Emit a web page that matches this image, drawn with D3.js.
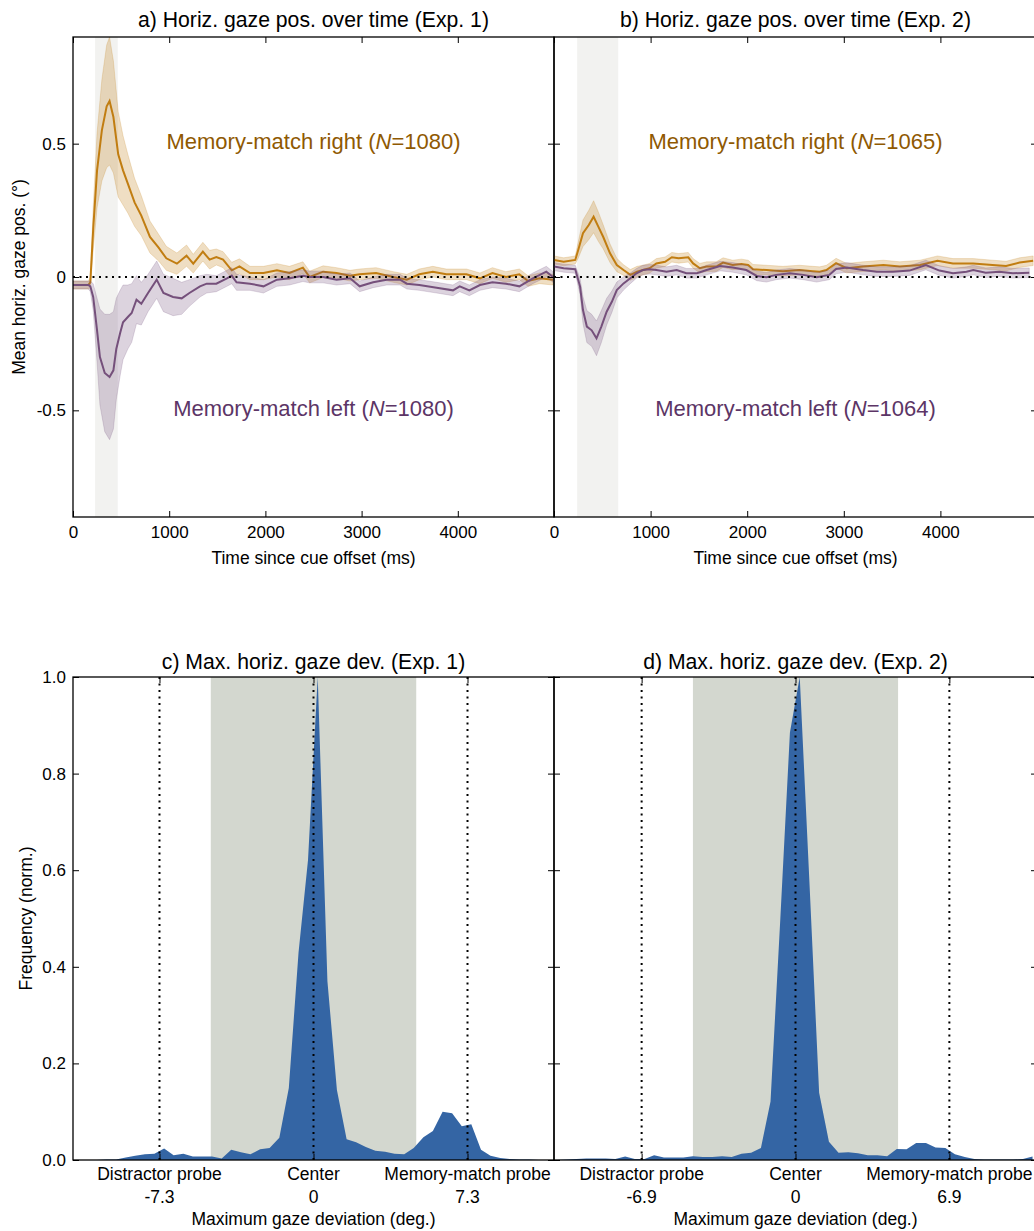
<!DOCTYPE html>
<html>
<head>
<meta charset="utf-8">
<script src="https://cdn.jsdelivr.net/npm/d3@7"></script>
<style>
  body { margin: 0; background: #fff; }
  svg text { font-family: "Liberation Sans", Arial, sans-serif; fill: #000; }
</style>
</head>
<body>
<svg id="chart" width="1034" height="1231"></svg>
<script>
// ---- Data ----
const panelTitles = [
  'a) Horiz. gaze pos. over time (Exp. 1)',
  'b) Horiz. gaze pos. over time (Exp. 2)',
  'c) Max. horiz. gaze dev. (Exp. 1)',
  'd) Max. horiz. gaze dev. (Exp. 2)'
];
const timeTicks = [0, 1000, 2000, 3000, 4000];
const gazeTicks = [-0.5, 0, 0.5];
const freqTicks = [0, 0.2, 0.4, 0.6, 0.8, 1.0];
const probeNames = ['Distractor probe', 'Center', 'Memory-match probe'];

// Exp. 1, memory-match right
const exp1RightTime = [0,160,180,210,250,300,350,380,420,470, 520,570,640,710,800,890,970,1080,1180,1250,
  1350,1420,1490,1560,1650,1730,1840,1980,2120,2250, 2390,2460,2600,2740,2880,2980,3150,3330,3470,3600,
  3740,3880,4090,4230,4360,4500,4640,4730,4850,4990];
const exp1RightMean = [-0.03,-0.03,-0.02,0.18,0.40,0.55,0.64,0.66,0.60,0.46, 0.40,0.35,0.28,0.23,0.15,0.11,0.07,0.05,0.08,0.05,
  0.095,0.065,0.075,0.065,0.025,0.04,0.015,0.015,0.025,0.015, 0.035,0.0,0.02,0.015,0.005,0.01,0.015,0.0,-0.01,0.01,
  0.02,0.01,0.01,-0.005,0.015,0.0,0.01,-0.015,-0.005,-0.01];
const exp1RightCi = [0.015,0.015,0.02,0.08,0.14,0.19,0.23,0.24,0.21,0.16, 0.13,0.11,0.09,0.075,0.06,0.05,0.045,0.04,0.04,0.035,
  0.035,0.035,0.03,0.03,0.03,0.028,0.025,0.025,0.025,0.025, 0.022,0.022,0.022,0.02,0.02,0.02,0.02,0.02,0.02,0.02,
  0.02,0.02,0.02,0.02,0.02,0.02,0.02,0.02,0.02,0.02];

// Exp. 1, memory-match left
const exp1LeftTime = [0,160,180,210,250,280,330,380,420,450, 490,520,570,610,660,710,780,870,940,1040,
  1130,1210,1320,1390,1490,1600,1650,1700,1840,1980, 2120,2250,2390,2460,2600,2740,2880,2980,3120,3260,
  3400,3470,3600,3780,3950,4020,4120,4230,4360,4500, 4640,4780,4920,4990];
const exp1LeftMean = [-0.03,-0.03,-0.035,-0.075,-0.20,-0.30,-0.36,-0.375,-0.35,-0.27, -0.21,-0.17,-0.15,-0.135,-0.085,-0.10,-0.06,-0.01,-0.06,-0.075,
  -0.08,-0.06,-0.035,-0.025,-0.025,-0.005,0.005,-0.02,-0.025,-0.035, -0.01,-0.005,0.005,0.0,0.0,-0.01,-0.005,-0.035,-0.02,-0.01,
  -0.01,-0.025,-0.03,-0.04,-0.05,-0.035,-0.05,-0.03,-0.02,-0.025, -0.035,-0.005,0.02,0.0];
const exp1LeftCi = [0.015,0.015,0.02,0.05,0.12,0.18,0.22,0.235,0.22,0.19, 0.16,0.14,0.12,0.11,0.09,0.08,0.07,0.07,0.07,0.07,
  0.06,0.05,0.04,0.035,0.03,0.03,0.03,0.03,0.025,0.025, 0.025,0.025,0.022,0.022,0.022,0.02,0.02,0.02,0.02,0.02,
  0.02,0.02,0.02,0.02,0.02,0.02,0.02,0.02,0.02,0.02, 0.02,0.02,0.02,0.02];

// Exp. 2, memory-match right
const exp2RightTime = [0,100,220,250,300,360,410,460,510,580, 650,720,790,860,920,990,1060,1150,1220,1290,
  1390,1440,1510,1580,1680,1750,1850,1940,2010,2060, 2200,2370,2540,2680,2750,2820,2920,3030,3200,3410,
  3580,3790,3970,4130,4340,4540,4680,4820,4960];
const exp2RightMean = [0.064,0.057,0.064,0.10,0.164,0.195,0.226,0.188,0.15,0.089, 0.045,0.026,0.008,0.02,0.026,0.033,0.051,0.057,0.074,0.07,
  0.074,0.051,0.033,0.039,0.039,0.054,0.045,0.049,0.045,0.029, 0.026,0.022,0.026,0.022,0.02,0.026,0.052,0.033,0.039,0.045,
  0.039,0.045,0.061,0.051,0.051,0.045,0.041,0.054,0.061];
const exp2RightCi = [0.015,0.015,0.015,0.03,0.05,0.055,0.06,0.055,0.045,0.035, 0.025,0.02,0.02,0.02,0.018,0.018,0.018,0.018,0.018,0.018,
  0.018,0.018,0.018,0.018,0.018,0.018,0.018,0.018,0.018,0.018, 0.018,0.018,0.018,0.018,0.018,0.018,0.018,0.018,0.018,0.018,
  0.018,0.018,0.018,0.018,0.018,0.018,0.018,0.018,0.018];

// Exp. 2, memory-match left
const exp2LeftTime = [0,100,220,270,300,340,390,440,490,545, 600,650,720,790,855,920,990,1060,1165,1270,
  1370,1480,1580,1720,1850,1990,2100,2200,2300,2440, 2580,2720,2850,2920,3030,3200,3340,3510,3680,3850,
  3990,4130,4270,4340,4470,4610,4750,4920];
const exp2LeftMean = [0.039,0.033,0.029,-0.036,-0.124,-0.186,-0.2,-0.23,-0.186,-0.13, -0.092,-0.049,-0.024,-0.005,0.014,0.026,0.029,0.026,0.02,0.026,
  0.014,0.014,0.026,0.041,0.036,0.026,0.004,-0.001,0.008,0.014, 0.008,-0.001,0.008,0.03,0.036,0.026,0.02,0.02,0.024,0.045,
  0.024,0.014,0.02,0.026,0.016,0.02,0.014,0.016];
const exp2LeftCi = [0.015,0.015,0.015,0.03,0.05,0.06,0.06,0.065,0.06,0.05, 0.04,0.03,0.025,0.02,0.018,0.018,0.018,0.018,0.018,0.018,
  0.018,0.018,0.018,0.018,0.018,0.018,0.018,0.018,0.018,0.018, 0.018,0.018,0.018,0.018,0.018,0.018,0.018,0.018,0.018,0.018,
  0.018,0.018,0.018,0.018,0.018,0.018,0.018,0.018];

const exp1N = {right: 1080, left: 1080};
const exp2N = {right: 1065, left: 1064};
const exp1Shade = [230, 465];
const exp2Shade = [240, 665];

// Histograms of maximum gaze deviation (deg.)
const exp1Dev = [-11.18,-10.72,-10.27,-9.81,-9.36,-8.90,-8.45,-7.99,-7.54,-7.08, -6.63,-6.17,-5.72,-5.26,-4.81,-4.35,-3.90,-3.44,-2.99,-2.53,
  -2.08,-1.62,-1.17,-0.71,-0.26,0.20,0.66,1.11,1.57,2.02, 2.48,2.93,3.39,3.84,4.30,4.75,5.21,5.66,6.12,6.57,
  7.03,7.48,7.94,8.39,8.85,9.30,9.76,10.21,10.67,11.12];
const exp1Freq = [0,0,0,0.001,0.001,0.005,0.009,0.012,0.013,0.024, 0.010,0.013,0.007,0.007,0.007,0.003,0.021,0.016,0.012,0.022,
  0.025,0.046,0.149,0.429,0.621,1.0,0.37,0.145,0.043,0.037, 0.027,0.019,0.017,0.013,0.012,0.025,0.047,0.060,0.100,0.097,
  0.070,0.074,0.021,0.009,0.004,0.002,0.001,0.001,0,0];
const exp2Dev = [-10.69,-10.25,-9.82,-9.38,-8.95,-8.51,-8.08,-7.64,-7.21,-6.77, -6.34,-5.90,-5.47,-5.03,-4.60,-4.16,-3.73,-3.29,-2.86,-2.42,
  -1.99,-1.55,-1.12,-0.68,-0.25,0.19,0.63,1.06,1.50,1.93, 2.37,2.80,3.24,3.67,4.11,4.54,4.98,5.41,5.85,6.28,
  6.72,7.15,7.59,8.02,8.46,8.89,9.33,9.76,10.20,10.63];
const exp2Freq = [0,0.001,0.002,0.003,0.003,0.003,0.002,0.007,0.002,0.002, 0.010,0.005,0.005,0.005,0.008,0.006,0.006,0.008,0.006,0.013,
  0.015,0.025,0.121,0.50,0.885,1.0,0.57,0.139,0.038,0.015, 0.016,0.014,0.010,0.010,0.008,0.023,0.022,0.035,0.035,0.026,
  0.025,0.012,0.006,0.002,0.001,0.001,0.001,0.001,0.002,0.007];

const exp1Probe = 7.3, exp2Probe = 6.9;
const exp1CenterZone = 4.87, exp2CenterZone = 4.6;
const exp1XMax = 11.4, exp2XMax = 10.83;

const FONT = '"Liberation Sans", Arial, sans-serif';
const colors = {
  right: '#c17d11', rightText: '#8f5902',
  left: '#75507b', leftText: '#5c3566',
  shade: '#f2f2f0', zone: '#d3d7cf', hist: '#3465a4'
};

const svg = d3.select('#chart');

/**
 * Inward ticks on all four sides plus the black frame, matplotlib style
 */
function drawFrame(vis, xTicks, yTicks, showY, xFormat, yFormat) {
  const t = 6;
  const style = g => {
    g.select('.domain').remove();
    g.selectAll('line').attr('stroke', '#000').attr('stroke-width', 1);
    g.selectAll('text').attr('font-size', 17).attr('font-family', FONT).attr('fill', '#000');
  };
  vis.chart.append('g')
      .attr('transform', `translate(0,${vis.height})`)
      .call(d3.axisBottom(vis.xScale).tickValues(xTicks).tickSizeInner(-t).tickSizeOuter(0)
        .tickPadding(9).tickFormat(xFormat))
      .call(style);
  vis.chart.append('g')
      .call(d3.axisTop(vis.xScale).tickValues(xTicks).tickSizeInner(-t).tickSizeOuter(0).tickFormat(''))
      .call(style);
  vis.chart.append('g')
      .call(d3.axisLeft(vis.yScale).tickValues(yTicks).tickSizeInner(-t).tickSizeOuter(0)
        .tickPadding(7).tickFormat(showY ? yFormat : ''))
      .call(style);
  vis.chart.append('g')
      .attr('transform', `translate(${vis.width},0)`)
      .call(d3.axisRight(vis.yScale).tickValues(yTicks).tickSizeInner(-t).tickSizeOuter(0).tickFormat(''))
      .call(style);
  vis.chart.append('rect')
      .attr('width', vis.width)
      .attr('height', vis.height)
      .attr('fill', 'none')
      .attr('stroke', '#000')
      .attr('stroke-width', 1.3);
}

class GazePanel {

  constructor(_config, _series) {
    this.config = {
      id: _config.id,
      left: _config.left,
      top: _config.top,
      width: _config.width || 481,
      height: _config.height || 480,
      title: _config.title,
      shade: _config.shade,
      showY: _config.showY
    };
    this.series = _series;
    this.initVis();
  }

  initVis() {
    let vis = this;
    vis.width = vis.config.width;
    vis.height = vis.config.height;

    vis.xScale = d3.scaleLinear().domain([0, 5000]).range([0, vis.width]);
    vis.yScale = d3.scaleLinear().domain([-0.9, 0.9]).range([vis.height, 0]);

    vis.chart = svg.append('g')
        .attr('transform', `translate(${vis.config.left},${vis.config.top})`);

    vis.chart.append('clipPath').attr('id', 'clip-' + vis.config.id)
      .append('rect').attr('width', vis.width).attr('height', vis.height);

    vis.plot = vis.chart.append('g').attr('clip-path', `url(#clip-${vis.config.id})`);
    vis.renderVis();
  }

  renderVis() {
    let vis = this;

    // Saccade window shading
    vis.plot.append('rect')
        .attr('x', vis.xScale(vis.config.shade[0]))
        .attr('width', vis.xScale(vis.config.shade[1]) - vis.xScale(vis.config.shade[0]))
        .attr('y', 0)
        .attr('height', vis.height)
        .attr('fill', colors.shade);

    const area = d3.area()
        .x(d => vis.xScale(d.t))
        .y0(d => vis.yScale(d.m - d.ci))
        .y1(d => vis.yScale(d.m + d.ci));
    const line = d3.line()
        .x(d => vis.xScale(d.t))
        .y(d => vis.yScale(d.m));

    vis.series.forEach(s => {
      const pts = s.time.map((t, i) => ({t: t, m: s.mean[i], ci: s.ci[i]}));
      vis.plot.append('path').datum(pts)
          .attr('d', area)
          .attr('fill', s.color)
          .attr('fill-opacity', 0.25)
          .attr('stroke', s.color)
          .attr('stroke-opacity', 0.2)
          .attr('stroke-width', 1);
      vis.plot.append('path').datum(pts)
          .attr('d', line)
          .attr('fill', 'none')
          .attr('stroke', s.color)
          .attr('stroke-width', 2);
    });

    // Zero reference
    vis.plot.append('line')
        .attr('x1', 0).attr('x2', vis.width)
        .attr('y1', vis.yScale(0)).attr('y2', vis.yScale(0))
        .attr('stroke', '#000')
        .attr('stroke-width', 2)
        .attr('stroke-dasharray', '2,4.5');

    drawFrame(vis, timeTicks, gazeTicks, vis.config.showY, d => d, d => String(d));

    // Labels
    vis.series.forEach(s => {
      const txt = vis.chart.append('text')
          .attr('x', vis.width / 2)
          .attr('y', vis.yScale(s.labelY))
          .attr('text-anchor', 'middle')
          .attr('font-size', 22)
          .style('fill', s.textColor);
      txt.append('tspan').text(s.label + ' (');
      txt.append('tspan').attr('font-style', 'italic').text('N');
      txt.append('tspan').text('=' + s.n + ')');
    });

    vis.chart.append('text')
        .attr('x', vis.width / 2)
        .attr('y', -10)
        .attr('text-anchor', 'middle')
        .attr('font-size', 21.2)
        .text(vis.config.title);

    vis.chart.append('text')
        .attr('x', vis.width / 2)
        .attr('y', vis.height + 47)
        .attr('text-anchor', 'middle')
        .attr('font-size', 17.5)
        .text('Time since cue offset (ms)');

    if (vis.config.showY) {
      vis.chart.append('text')
          .attr('transform', `translate(-48,${vis.height / 2}) rotate(-90)`)
          .attr('text-anchor', 'middle')
          .attr('font-size', 17.5)
          .text('Mean horiz. gaze pos. (°)');
    }
  }
}

class HistPanel {

  constructor(_config, _dev, _freq) {
    this.config = {
      id: _config.id,
      left: _config.left,
      top: _config.top,
      width: _config.width || 481,
      height: _config.height || 483,
      title: _config.title,
      xMax: _config.xMax,
      probe: _config.probe,
      zone: _config.zone,
      showY: _config.showY
    };
    this.dev = _dev;
    this.freq = _freq;
    this.initVis();
  }

  initVis() {
    let vis = this;
    vis.width = vis.config.width;
    vis.height = vis.config.height;

    vis.xScale = d3.scaleLinear().domain([-vis.config.xMax, vis.config.xMax]).range([0, vis.width]);
    vis.yScale = d3.scaleLinear().domain([0, 1]).range([vis.height, 0]);

    vis.chart = svg.append('g')
        .attr('transform', `translate(${vis.config.left},${vis.config.top})`);
    vis.chart.append('clipPath').attr('id', 'clip-' + vis.config.id)
      .append('rect').attr('width', vis.width).attr('height', vis.height);
    vis.plot = vis.chart.append('g').attr('clip-path', `url(#clip-${vis.config.id})`);
    vis.renderVis();
  }

  renderVis() {
    let vis = this;
    const probe = vis.config.probe;

    // Central fixation zone
    vis.plot.append('rect')
        .attr('x', vis.xScale(-vis.config.zone))
        .attr('width', vis.xScale(vis.config.zone) - vis.xScale(-vis.config.zone))
        .attr('height', vis.height)
        .attr('fill', colors.zone);

    const pts = vis.dev.map((d, i) => ({x: d, y: vis.freq[i]}));
    vis.plot.append('path').datum(pts)
        .attr('d', d3.area().x(d => vis.xScale(d.x)).y0(vis.yScale(0)).y1(d => vis.yScale(d.y)))
        .attr('fill', colors.hist);

    vis.plot.selectAll('.probe-line')
        .data([-probe, 0, probe])
      .join('line')
        .attr('class', 'probe-line')
        .attr('x1', d => vis.xScale(d)).attr('x2', d => vis.xScale(d))
        .attr('y1', 0).attr('y2', vis.height)
        .attr('stroke', '#000')
        .attr('stroke-width', 2)
        .attr('stroke-dasharray', '2,4.5');

    drawFrame(vis, [-probe, 0, probe], freqTicks, vis.config.showY, '', d3.format('.1f'));

    // Two-line x tick labels
    const labels = vis.chart.selectAll('.probe-label')
        .data([-probe, 0, probe])
      .join('text')
        .attr('class', 'probe-label')
        .attr('text-anchor', 'middle')
        .attr('font-size', 17.5);
    labels.append('tspan')
        .attr('x', d => vis.xScale(d))
        .attr('y', vis.height + 20)
        .text((d, i) => probeNames[i]);
    labels.append('tspan')
        .attr('x', d => vis.xScale(d))
        .attr('y', vis.height + 43)
        .text(d => String(d));

    vis.chart.append('text')
        .attr('x', vis.width / 2)
        .attr('y', -8)
        .attr('text-anchor', 'middle')
        .attr('font-size', 21.2)
        .text(vis.config.title);

    vis.chart.append('text')
        .attr('x', vis.width / 2)
        .attr('y', vis.height + 65)
        .attr('text-anchor', 'middle')
        .attr('font-size', 17.5)
        .text('Maximum gaze deviation (deg.)');

    if (vis.config.showY) {
      vis.chart.append('text')
          .attr('transform', `translate(-41,${vis.height / 2}) rotate(-90)`)
          .attr('text-anchor', 'middle')
          .attr('font-size', 17.5)
          .text('Frequency (norm.)');
    }
  }
}

const seriesFor = (time, mean, ci, color, textColor, label, n, labelY) =>
  ({time, mean, ci, color, textColor, label, n, labelY});

new GazePanel({id: 'a', left: 73, top: 37, title: panelTitles[0], shade: exp1Shade, showY: true}, [
  seriesFor(exp1RightTime, exp1RightMean, exp1RightCi, colors.right, colors.rightText, 'Memory-match right', exp1N.right, 0.48),
  seriesFor(exp1LeftTime, exp1LeftMean, exp1LeftCi, colors.left, colors.leftText, 'Memory-match left', exp1N.left, -0.52)
]);
new GazePanel({id: 'b', left: 554, top: 37, width: 483, title: panelTitles[1], shade: exp2Shade, showY: false}, [
  seriesFor(exp2RightTime, exp2RightMean, exp2RightCi, colors.right, colors.rightText, 'Memory-match right', exp2N.right, 0.48),
  seriesFor(exp2LeftTime, exp2LeftMean, exp2LeftCi, colors.left, colors.leftText, 'Memory-match left', exp2N.left, -0.52)
]);
new HistPanel({id: 'c', left: 73, top: 677, title: panelTitles[2], xMax: exp1XMax, probe: exp1Probe,
  zone: exp1CenterZone, showY: true}, exp1Dev, exp1Freq);
new HistPanel({id: 'd', left: 554, top: 677, width: 483, title: panelTitles[3], xMax: exp2XMax, probe: exp2Probe,
  zone: exp2CenterZone, showY: false}, exp2Dev, exp2Freq);
</script>
</body>
</html>
